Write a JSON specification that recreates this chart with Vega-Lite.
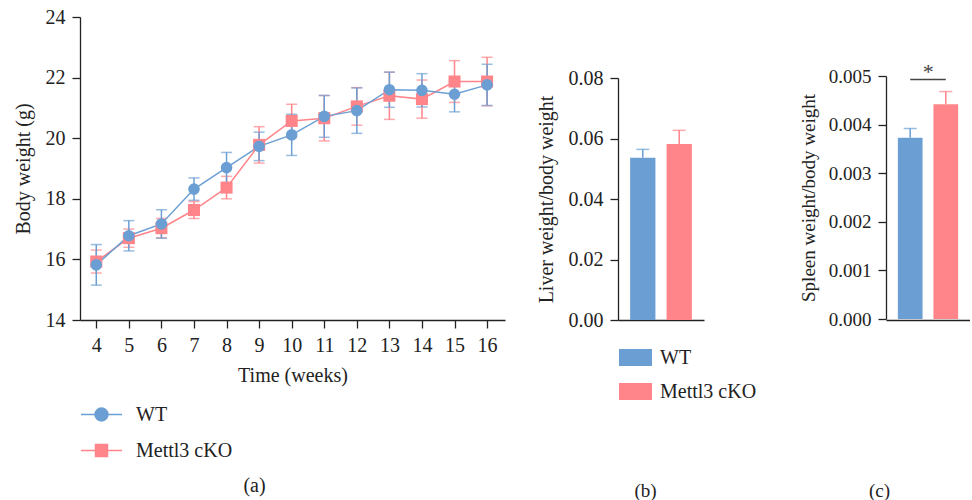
{
  "$schema": "https://vega.github.io/schema/vega-lite/v6.json",
  "padding": {"left": 13, "top": 7, "right": 0, "bottom": 0},
  "background": "white",
  "config": {
    "font": "Liberation Serif",
    "view": {"stroke": null},
    "axis": {"labelFont": "Liberation Serif", "titleFont": "Liberation Serif", "labelFontSize": 20, "titleFontSize": 20, "titleFontWeight": "normal", "labelColor": "#222", "titleColor": "#222", "domainColor": "#222", "tickColor": "#222", "domainWidth": 1.3, "tickWidth": 1.3, "tickSize": 8, "labelPadding": 7, "grid": false},
    "legend": {"labelFont": "Liberation Serif", "labelFontSize": 20, "labelColor": "#222", "padding": 0, "rowPadding": 0, "symbolOpacity": 1},
    "title": {"font": "Liberation Serif", "fontWeight": "normal", "fontSize": 20, "color": "#222"}
  },
  "spacing": 113,
  "bounds": "flush",
  "resolve": {"scale": {"color": "independent"}, "legend": {"color": "independent"}},
  "hconcat": [
    {
      "width": 425,
      "height": 303,
      "title": {"text": "(a)", "orient": "bottom", "anchor": "middle", "dx": -38, "offset": 15},
      "data": {"values": [
        {"week": 4, "group": "Mettl3 cKO", "mean": 15.93, "err": 0.38},
        {"week": 5, "group": "Mettl3 cKO", "mean": 16.70, "err": 0.30},
        {"week": 6, "group": "Mettl3 cKO", "mean": 17.03, "err": 0.32},
        {"week": 7, "group": "Mettl3 cKO", "mean": 17.63, "err": 0.28},
        {"week": 8, "group": "Mettl3 cKO", "mean": 18.37, "err": 0.37},
        {"week": 9, "group": "Mettl3 cKO", "mean": 19.78, "err": 0.60},
        {"week": 10, "group": "Mettl3 cKO", "mean": 20.57, "err": 0.55},
        {"week": 11, "group": "Mettl3 cKO", "mean": 20.66, "err": 0.75},
        {"week": 12, "group": "Mettl3 cKO", "mean": 21.05, "err": 0.62},
        {"week": 13, "group": "Mettl3 cKO", "mean": 21.40, "err": 0.78},
        {"week": 14, "group": "Mettl3 cKO", "mean": 21.29, "err": 0.63},
        {"week": 15, "group": "Mettl3 cKO", "mean": 21.87, "err": 0.69},
        {"week": 16, "group": "Mettl3 cKO", "mean": 21.87, "err": 0.80},
        {"week": 4, "group": "WT", "mean": 15.82, "err": 0.67},
        {"week": 5, "group": "WT", "mean": 16.78, "err": 0.50},
        {"week": 6, "group": "WT", "mean": 17.17, "err": 0.47},
        {"week": 7, "group": "WT", "mean": 18.32, "err": 0.37},
        {"week": 8, "group": "WT", "mean": 19.03, "err": 0.50},
        {"week": 9, "group": "WT", "mean": 19.73, "err": 0.47},
        {"week": 10, "group": "WT", "mean": 20.11, "err": 0.68},
        {"week": 11, "group": "WT", "mean": 20.72, "err": 0.69},
        {"week": 12, "group": "WT", "mean": 20.91, "err": 0.75},
        {"week": 13, "group": "WT", "mean": 21.60, "err": 0.58},
        {"week": 14, "group": "WT", "mean": 21.58, "err": 0.55},
        {"week": 15, "group": "WT", "mean": 21.45, "err": 0.58},
        {"week": 16, "group": "WT", "mean": 21.76, "err": 0.68}
      ]},
      "encoding": {
        "x": {"field": "week", "type": "quantitative", "scale": {"domain": [3.5, 16.55], "nice": false, "zero": false}, "axis": {"values": [4, 5, 6, 7, 8, 9, 10, 11, 12, 13, 14, 15, 16], "format": "d", "title": "Time (weeks)", "titlePadding": 10}}
      },
      "layer": [
        {
          "mark": {"type": "errorbar", "ticks": {"size": 11, "thickness": 1.5}, "thickness": 1.5},
          "encoding": {
            "y": {"field": "mean", "type": "quantitative", "scale": {"domain": [14, 24], "nice": false, "zero": false}, "axis": {"values": [14, 16, 18, 20, 22, 24], "title": "Body weight (g)", "titlePadding": 12}},
            "yError": {"field": "err"},
            "color": {"field": "group", "type": "nominal", "scale": {"domain": ["WT", "Mettl3 cKO"], "range": ["#6b9fd4", "#ff858a"]}, "legend": {
              "title": null, "orient": "none", "legendX": 3, "legendY": 379, "rowPadding": 7,
              "symbolSize": 1225, "symbolStrokeWidth": 1.5, "labelOffset": 16, "symbolOpacity": 1,
              "encode": {"symbols": {"update": {
                "shape": {"signal": "datum.value === 'WT' ? 'M-1.171,0H-0.37M0.37,0H1.171M-0.371,0A0.371,0.371,0,1,1,0.371,0A0.371,0.371,0,1,1,-0.371,0Z' : 'M-1.171,0H-0.343M0.343,0H1.171M-0.343,-0.343H0.343V0.343H-0.343Z'"},
                "fill": {"signal": "datum.value === 'WT' ? '#6b9fd4' : '#ff858a'"},
                "stroke": {"signal": "datum.value === 'WT' ? '#6b9fd4' : '#ff858a'"},
                "strokeWidth": {"value": 1.5},
                "opacity": {"value": 1}
              }}}
            }}
          }
        },
        {
          "mark": {"type": "line", "strokeWidth": 1.5},
          "encoding": {
            "y": {"field": "mean", "type": "quantitative"},
            "color": {"field": "group", "type": "nominal"}
          }
        },
        {
          "transform": [{"filter": "datum.group === 'Mettl3 cKO'"}],
          "mark": {"type": "point", "filled": true, "opacity": 1, "size": 145, "shape": "square"},
          "encoding": {
            "y": {"field": "mean", "type": "quantitative"},
            "color": {"field": "group", "type": "nominal"}
          }
        },
        {
          "transform": [{"filter": "datum.group === 'WT'"}],
          "mark": {"type": "point", "filled": true, "opacity": 1, "size": 135, "shape": "circle"},
          "encoding": {
            "y": {"field": "mean", "type": "quantitative"},
            "color": {"field": "group", "type": "nominal"}
          }
        }
      ]
    },
    {
      "width": 155,
      "height": 303,
      "data": {"values": [
        {"group": "WT", "mean": 0.0536, "upper": 0.0564},
        {"group": "Mettl3 cKO", "mean": 0.0582, "upper": 0.0627}
      ]},
      "encoding": {
        "x": {"field": "group", "type": "nominal", "scale": {"domain": ["WT", "Mettl3 cKO"], "range": [0, 86], "paddingInner": 0.306, "paddingOuter": 0.333}, "axis": {"labels": false, "ticks": false, "title": "(b)", "titleX": 27, "titleY": 170, "titleBaseline": "middle", "titleFontSize": 19}}
      },
      "layer": [
        {
          "mark": {"type": "bar"},
          "encoding": {
            "y": {"field": "mean", "type": "quantitative", "scale": {"domain": [0, 0.08], "range": [303, 61], "nice": false}, "axis": {"values": [0, 0.02, 0.04, 0.06, 0.08], "format": ".2f", "title": "Liver weight/body weight", "titlePadding": 12}},
            "color": {"field": "group", "type": "nominal", "scale": {"domain": ["WT", "Mettl3 cKO"], "range": ["#6b9fd4", "#ff858a"]}, "legend": {
              "title": null, "orient": "none", "legendX": 1, "legendY": 324, "rowPadding": 7,
              "symbolType": "M-1,-0.515H1V0.515H-1Z", "symbolSize": 1089, "symbolStrokeWidth": 0, "labelOffset": 8, "symbolOpacity": 1
            }}
          }
        },
        {
          "mark": {"type": "rule", "strokeWidth": 1.5},
          "encoding": {
            "y": {"field": "mean", "type": "quantitative"},
            "y2": {"field": "upper"},
            "color": {"field": "group", "type": "nominal"}
          }
        },
        {
          "mark": {"type": "tick", "orient": "horizontal", "thickness": 1.5, "size": 13},
          "encoding": {
            "y": {"field": "upper", "type": "quantitative"},
            "color": {"field": "group", "type": "nominal"}
          }
        }
      ]
    },
    {
      "width": 84,
      "height": 303,
      "data": {"values": [
        {"group": "WT", "mean": 0.00373, "upper": 0.00392},
        {"group": "Mettl3 cKO", "mean": 0.00442, "upper": 0.00468}
      ]},
      "encoding": {
        "x": {"field": "group", "type": "nominal", "scale": {"domain": ["WT", "Mettl3 cKO"], "range": [0, 84], "paddingInner": 0.306, "paddingOuter": 0.333}, "axis": {"labels": false, "ticks": false, "title": "(c)", "titleX": -7, "titleY": 170, "titleBaseline": "middle", "titleFontSize": 19}}
      },
      "layer": [
        {
          "mark": {"type": "bar"},
          "encoding": {
            "y": {"field": "mean", "type": "quantitative", "scale": {"domain": [0, 0.005], "range": [302, 59], "nice": false}, "axis": {"values": [0, 0.001, 0.002, 0.003, 0.004, 0.005], "format": ".3f", "title": "Spleen weight/body weight", "titlePadding": 10, "labelFontSize": 19, "titleFontSize": 19}},
            "color": {"field": "group", "type": "nominal", "scale": {"domain": ["WT", "Mettl3 cKO"], "range": ["#6b9fd4", "#ff858a"]}, "legend": null}
          }
        },
        {
          "mark": {"type": "rule", "strokeWidth": 1.5},
          "encoding": {
            "y": {"field": "mean", "type": "quantitative"},
            "y2": {"field": "upper"},
            "color": {"field": "group", "type": "nominal", "legend": null}
          }
        },
        {
          "mark": {"type": "tick", "orient": "horizontal", "thickness": 1.5, "size": 13},
          "encoding": {
            "y": {"field": "upper", "type": "quantitative"},
            "color": {"field": "group", "type": "nominal", "legend": null}
          }
        },
        {
          "data": {"values": [{"a": "WT", "b": "Mettl3 cKO", "line": 0.00493, "star": 0.00508, "label": "*"}]},
          "mark": {"type": "rule", "strokeWidth": 1.5, "color": "#444"},
          "encoding": {
            "x": {"field": "a", "type": "nominal"},
            "x2": {"field": "b"},
            "y": {"field": "line", "type": "quantitative"}
          }
        },
        {
          "data": {"values": [{"a": "WT", "b": "Mettl3 cKO", "line": 0.00493, "star": 0.00508, "label": "*"}]},
          "mark": {"type": "text", "dx": 18, "fontSize": 22, "color": "#444", "baseline": "middle", "font": "Liberation Serif"},
          "encoding": {
            "x": {"field": "a", "type": "nominal"},
            "y": {"field": "star", "type": "quantitative"},
            "text": {"field": "label"}
          }
        }
      ]
    }
  ]
}
